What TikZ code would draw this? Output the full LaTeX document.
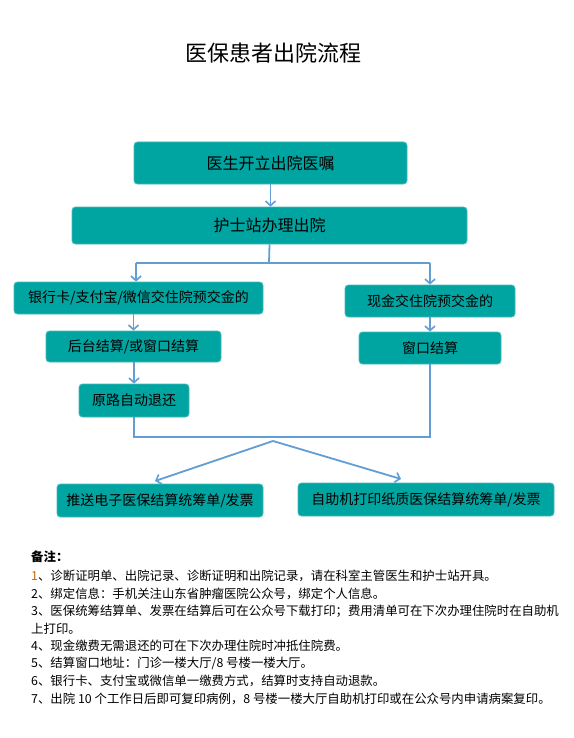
\documentclass[tikz,border=0pt]{standalone}
\usepackage{fontspec}
\setmainfont{Noto Sans CJK SC}
\usetikzlibrary{arrows.meta}
\definecolor{boxfill}{RGB}{0,164,161}
\definecolor{boxedge}{RGB}{70,186,184}
\definecolor{conn}{RGB}{98,157,214}
\definecolor{numc}{RGB}{204,102,0}
\begin{document}
\begin{tikzpicture}[x=1pt,y=-1pt,
  flowbox/.style={draw=boxedge,line width=0.8pt,fill=boxfill,rounded corners=3.5pt,inner sep=0pt,text=black,font=\fontsize{14pt}{16pt}\selectfont},
  bigbox/.style={flowbox,font=\fontsize{16pt}{18pt}\selectfont},
  conline/.style={draw=conn,line width=1.8pt},
  conarrow/.style={conline,-{Straight Barb[length=4.5pt,width=10pt,line width=1.6pt]}},
  note/.style={anchor=west,inner sep=0pt,font=\fontsize{12.4pt}{14pt}\selectfont,text=black}
]
\useasboundingbox (0,0) rectangle (573,738);
\fill[white] (0,0) rectangle (573,738);

\node[inner sep=0pt,font=\fontsize{22pt}{24pt}\selectfont] (title) at (273,53) {医保患者出院流程};

\node[bigbox,minimum width=273pt,minimum height=42pt] (b1) at (270.5,163) {医生开立出院医嘱};
\node[bigbox,minimum width=395pt,minimum height=37pt] (b2) at (269.5,225.5) {护士站办理出院};
\node[flowbox,minimum width=249pt,minimum height=32pt] (b3) at (138.5,298) {银行卡/支付宝/微信交住院预交金的};
\node[flowbox,minimum width=175pt,minimum height=31pt] (b4) at (133.5,346.5) {后台结算/或窗口结算};
\node[flowbox,minimum width=110pt,minimum height=33pt] (b5) at (134,400.5) {原路自动退还};
\node[flowbox,minimum width=170pt,minimum height=32pt] (b6) at (430,301) {现金交住院预交金的};
\node[flowbox,minimum width=142pt,minimum height=32pt] (b7) at (430,348) {窗口结算};
\node[flowbox,minimum width=206pt,minimum height=33pt] (b8) at (160,500.5) {推送电子医保结算统筹单/发票};
\node[flowbox,minimum width=256pt,minimum height=33pt] (b9) at (426,499.5) {自助机打印纸质医保结算统筹单/发票};

% connectors
\draw[conarrow] (b1.south) -- (b1.south |- b2.north);

\coordinate (jm) at (269,263);
\coordinate (jl) at (136,263);
\coordinate (jr) at (430,263);
\draw[conline] (b2.south) -- (jm);
\draw[conline] (jl) -- (jr);
\draw[conarrow] (jl) -- (jl |- b3.north);
\draw[conarrow] (jr) -- (b6.north);

\draw[conarrow] (b3.south -| b4.north) -- (b4.north);
\draw[conarrow] (b4.south -| b5.north) -- (b5.north);
\draw[conarrow] (b6.south) -- (b7.north);

\coordinate (ml) at (134,437);
\coordinate (mr) at (430,437);
\draw[conline,line join=miter] (b5.south) -- (ml) -- (mr) -- (b7.south);

\coordinate (sp) at (273,441);
\coordinate (tl) at (155,481);
\coordinate (tr) at (401,479);
\draw[conarrow] (sp) -- (tl);
\draw[conarrow] (sp) -- (tr);

% notes
\node[note,font=\fontsize{12.4pt}{14pt}\selectfont\bfseries] (n0) at (31,557) {备注：};
\node[note] (n1) at (31,576) {\textcolor{numc}{1}、诊断证明单、出院记录、诊断证明和出院记录，请在科室主管医生和护士站开具。};
\node[note] (n2) at (31,593.5) {2、绑定信息：手机关注山东省肿瘤医院公众号，绑定个人信息。};
\node[note] (n3) at (31,611) {3、医保统筹结算单、发票在结算后可在公众号下载打印；费用清单可在下次办理住院时在自助机};
\node[note] (n3b) at (31,628.5) {上打印。};
\node[note] (n4) at (31,646) {4、现金缴费无需退还的可在下次办理住院时冲抵住院费。};
\node[note] (n5) at (31,663.5) {5、结算窗口地址：门诊一楼大厅/8 号楼一楼大厅。};
\node[note] (n6) at (31,681) {6、银行卡、支付宝或微信单一缴费方式，结算时支持自动退款。};
\node[note] (n7) at (31,698.5) {7、出院 10 个工作日后即可复印病例，8 号楼一楼大厅自助机打印或在公众号内申请病案复印。};
\end{tikzpicture}
\end{document}
